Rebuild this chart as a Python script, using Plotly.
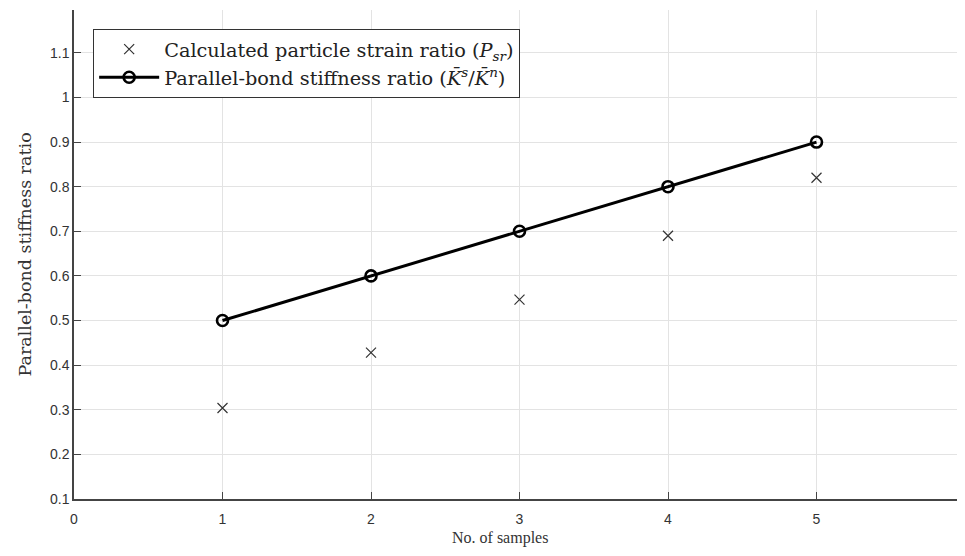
import plotly.graph_objects as go

samples = [1, 2, 3, 4, 5]
strain_ratio = [0.304, 0.428, 0.547, 0.690, 0.820]
stiffness_ratio = [0.5, 0.6, 0.7, 0.8, 0.9]
x_ticks = [0, 1, 2, 3, 4, 5, 6]
y_ticks = [0.1, 0.2, 0.3, 0.4, 0.5, 0.6, 0.7, 0.8, 0.9, 1.0, 1.1]
y_tick_text = ["0.1", "0.2", "0.3", "0.4", "0.5", "0.6", "0.7", "0.8", "0.9", "1", "1.1"]

serif_lib = "'Liberation Serif', serif"
serif_dv = "'DejaVu Serif', serif"
sans = "'Liberation Sans', Arial, sans-serif"

fig = go.Figure()
fig.add_trace(go.Scatter(
    x=samples, y=strain_ratio, mode="markers",
    name="Calculated particle strain ratio (<i>P<sub>sr</sub></i>)",
    marker=dict(symbol="x-thin-open", size=10, color="#333333",
                line=dict(width=1.2, color="#333333")),
))
fig.add_trace(go.Scatter(
    x=samples, y=stiffness_ratio, mode="lines+markers",
    name="Parallel-bond stiffness ratio (<i>K̄<sup>s</sup></i>/<i>K̄<sup>n</sup></i>)",
    line=dict(color="black", width=3),
    marker=dict(symbol="circle-open", size=11, color="black",
                line=dict(width=2.6, color="black")),
))

axis_common = dict(
    showgrid=True, gridcolor="#e3e3e3", gridwidth=1,
    showline=True, linecolor="#444444", linewidth=1.5,
    ticks="inside", ticklen=7, tickcolor="#444444", tickwidth=1,
    tickfont=dict(family=sans, size=14, color="#333333"),
    zeroline=False, automargin=False,
)

fig.update_layout(
    width=957, height=548,
    margin=dict(l=66, r=0, t=2, b=57),
    paper_bgcolor="white", plot_bgcolor="white",
    showlegend=True,
    legend=dict(
        x=0.0215, y=0.961, xanchor="left", yanchor="top",
        bgcolor="white", bordercolor="#333333", borderwidth=1,
        font=dict(family=serif_dv, size=19.3, color="#222222"),
        itemwidth=60, tracegroupgap=0,
    ),
    xaxis=dict(range=[0, 6.0], tickvals=x_ticks, ticklabelstandoff=6, **axis_common),
    yaxis=dict(range=[0.1, 1.196], tickvals=y_ticks, ticktext=y_tick_text, **axis_common),
    annotations=[
        dict(text="No. of samples", xref="paper", yref="paper", x=0.4785, y=-0.080,
             xanchor="center", yanchor="middle", showarrow=False,
             font=dict(family=serif_lib, size=16, color="#333333")),
        dict(text="Parallel-bond stiffness ratio", xref="paper", yref="paper",
             x=-0.055, y=0.5, xanchor="center", yanchor="middle", showarrow=False,
             textangle=-90, font=dict(family=serif_dv, size=17.5, color="#333333")),
    ],
)

fig.write_html("out.html")
